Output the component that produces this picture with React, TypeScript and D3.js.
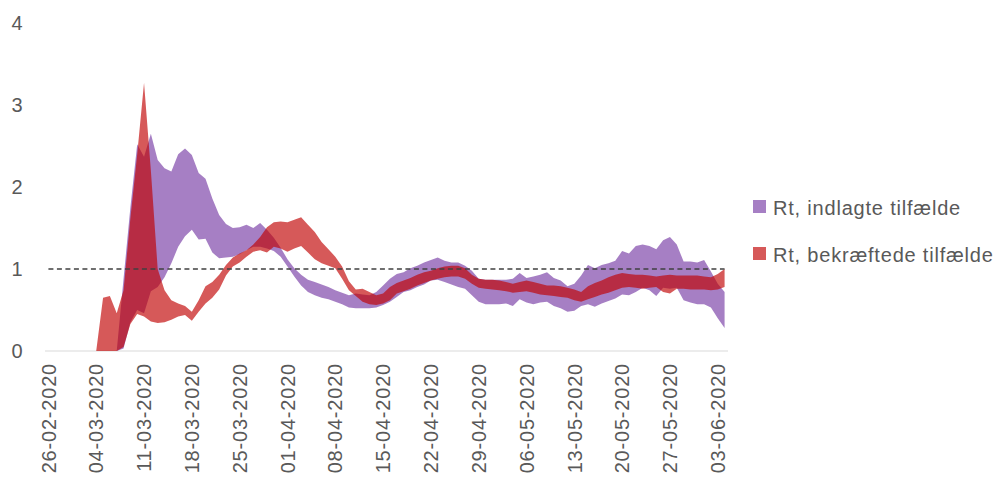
import React, { useEffect, useRef } from 'react';
import * as d3 from 'd3';

// one value per day, 26-02-2020 .. 04-06-2020 (null = no estimate yet)
const tickLabels = [
  '26-02-2020', '04-03-2020', '11-03-2020', '18-03-2020', '25-03-2020',
  '01-04-2020', '08-04-2020', '15-04-2020', '22-04-2020', '29-04-2020',
  '06-05-2020', '13-05-2020', '20-05-2020', '27-05-2020', '03-06-2020',
];
const tickStep = 7;
const yTicks = [0, 1, 2, 3, 4];
const threshold = 1;
const seriesNames = ['Rt, indlagte tilfælde', 'Rt, bekræftede tilfælde'];

const N = null;
// Rt, indlagte tilfælde (purple band)
const hospLow = [
  N, N, N, N, N, N, N, N, N, N,
  0, 0.03, 0.35, 0.50, 0.46, 0.73, 0.78, 0.90, 1.07, 1.27,
  1.40, 1.48, 1.36, 1.37, 1.20, 1.13, 1.14, 1.15, 1.18, 1.23,
  1.27, 1.27, 1.25, 1.22, 1.15, 1.03, 0.91, 0.80, 0.72, 0.68,
  0.65, 0.63, 0.60, 0.57, 0.53, 0.52, 0.52, 0.52, 0.53, 0.56,
  0.60, 0.66, 0.72, 0.74, 0.78, 0.81, 0.86, 0.87, 0.84, 0.81,
  0.78, 0.76, 0.68, 0.60, 0.57, 0.57, 0.57, 0.58, 0.55, 0.63,
  0.59, 0.57, 0.59, 0.60, 0.55, 0.52, 0.48, 0.49, 0.55, 0.57,
  0.54, 0.58, 0.61, 0.64, 0.69, 0.68, 0.72, 0.77, 0.74, 0.67,
  0.77, 0.76, 0.77, 0.62, 0.59, 0.57, 0.57, 0.53, 0.40, 0.28,
];
const hospHigh = [
  N, N, N, N, N, N, N, N, N, N,
  0, 0.88, 1.75, 2.52, 2.37, 2.65, 2.33, 2.23, 2.19, 2.40,
  2.47, 2.39, 2.17, 2.10, 1.86, 1.66, 1.55, 1.50, 1.51, 1.54,
  1.50, 1.56, 1.48, 1.38, 1.26, 1.12, 1.01, 0.93, 0.87, 0.84,
  0.81, 0.78, 0.74, 0.71, 0.68, 0.70, 0.69, 0.68, 0.72, 0.80,
  0.88, 0.94, 0.96, 1.01, 1.04, 1.08, 1.11, 1.14, 1.10, 1.08,
  1.08, 1.04, 0.98, 0.88, 0.87, 0.87, 0.87, 0.87, 0.88, 0.95,
  0.89, 0.91, 0.93, 0.96, 0.89, 0.86, 0.79, 0.82, 0.92, 1.05,
  1.01, 1.05, 1.07, 1.10, 1.22, 1.19, 1.28, 1.30, 1.28, 1.24,
  1.35, 1.39, 1.30, 1.09, 1.09, 1.08, 1.11, 0.97, 0.82, 0.72,
];
// Rt, bekræftede tilfælde (red band)
const casesLow = [
  N, N, N, N, N, N, N, 0, 0, 0,
  0, 0.05, 0.33, 0.45, 0.42, 0.36, 0.34, 0.35, 0.38, 0.42,
  0.44, 0.37, 0.48, 0.58, 0.65, 0.75, 0.92, 1.03, 1.08, 1.15,
  1.21, 1.23, 1.20, 1.27, 1.25, 1.21, 1.25, 1.28, 1.20, 1.12,
  1.07, 1.04, 1.01, 0.88, 0.74, 0.67, 0.60, 0.57, 0.56, 0.58,
  0.62, 0.70, 0.73, 0.76, 0.80, 0.83, 0.86, 0.88, 0.90, 0.91,
  0.91, 0.88, 0.82, 0.77, 0.76, 0.75, 0.74, 0.73, 0.71, 0.72,
  0.73, 0.71, 0.69, 0.68, 0.67, 0.66, 0.65, 0.62, 0.60, 0.63,
  0.66, 0.69, 0.71, 0.74, 0.77, 0.78, 0.77, 0.76, 0.77, 0.78,
  0.72, 0.70, 0.76, 0.76, 0.75, 0.75, 0.75, 0.74, 0.75, 0.78,
];
const casesHigh = [
  N, N, N, N, N, N, N, 0, 0.65, 0.67,
  0.46, 0.74, 1.62, 2.40, 3.27, 2.20, 1.00, 0.74, 0.62, 0.58,
  0.55, 0.48, 0.62, 0.79, 0.84, 0.93, 1.05, 1.14, 1.19, 1.23,
  1.30, 1.39, 1.51, 1.57, 1.58, 1.57, 1.60, 1.63, 1.54, 1.45,
  1.33, 1.24, 1.15, 1.03, 0.85, 0.75, 0.76, 0.72, 0.68, 0.70,
  0.78, 0.83, 0.86, 0.89, 0.93, 0.96, 0.98, 1.01, 1.03, 1.04,
  1.04, 1.01, 0.93, 0.88, 0.87, 0.87, 0.86, 0.84, 0.82, 0.84,
  0.86, 0.84, 0.82, 0.80, 0.80, 0.79, 0.77, 0.75, 0.72, 0.79,
  0.83, 0.86, 0.90, 0.93, 0.95, 0.94, 0.93, 0.93, 0.92, 0.91,
  0.92, 0.93, 0.92, 0.92, 0.92, 0.92, 0.91, 0.90, 0.94, 1.00,
];

const PURPLE = '#7030A0';
const RED = '#C00000';
const FONT = '"Liberation Sans", Arial, sans-serif';

export default function App() {
  const ref = useRef<SVGSVGElement>(null);

  useEffect(() => {
    const svg = d3.select(ref.current);
    svg.selectAll('*').remove();

    const nDays = hospHigh.length;
    const x = d3.scaleLinear().domain([-0.5, nDays - 0.5]).range([45, 728]);
    const y = d3.scaleLinear().domain([0, 4]).range([351, 23]);

    const band = (low: (number | null)[], high: (number | null)[]) =>
      d3.area<number>()
        .defined(i => low[i] != null && high[i] != null)
        .x(i => x(i))
        .y0(i => y(low[i] as number))
        .y1(i => y(high[i] as number));

    const idx = d3.range(nDays);

    // horizontal axis line
    svg.append('line')
      .attr('x1', x.range()[0]).attr('x2', x.range()[1])
      .attr('y1', y(0)).attr('y2', y(0))
      .attr('stroke', '#d9d9d9').attr('stroke-width', 1);

    svg.append('path')
      .attr('d', band(hospLow, hospHigh)(idx))
      .attr('fill', PURPLE).attr('fill-opacity', 0.62);

    svg.append('path')
      .attr('d', band(casesLow, casesHigh)(idx))
      .attr('fill', RED).attr('fill-opacity', 0.65);

    // Rt = 1 reference
    svg.append('line')
      .attr('x1', x(0)).attr('x2', x(nDays - 1))
      .attr('y1', y(threshold)).attr('y2', y(threshold))
      .attr('stroke', '#404040').attr('stroke-width', 1.3)
      .attr('stroke-dasharray', '5,3.5');

    // y labels
    svg.append('g').selectAll('text').data(yTicks).enter().append('text')
      .attr('x', 17).attr('y', d => y(d)).attr('dy', '0.35em')
      .attr('text-anchor', 'middle')
      .attr('font-family', FONT).attr('font-size', 20).attr('fill', '#595959')
      .text(d => d);

    // x labels
    svg.append('g').selectAll('text').data(tickLabels).enter().append('text')
      .attr('transform', (d, i) => `translate(${x(i * tickStep)},363) rotate(-90)`)
      .attr('dy', '0.36em')
      .attr('text-anchor', 'end')
      .attr('font-family', FONT).attr('font-size', 20).attr('fill', '#595959')
      .attr('letter-spacing', 0.8)
      .text(d => d);

    // legend
    const legend = svg.append('g');
    const colors = [PURPLE, RED];
    const opac = [0.62, 0.65];
    seriesNames.forEach((name, i) => {
      const gy = 200 + i * 47;
      legend.append('rect')
        .attr('x', 753).attr('y', gy).attr('width', 13).attr('height', 13)
        .attr('fill', colors[i]).attr('fill-opacity', opac[i]);
      legend.append('text')
        .attr('x', 773).attr('y', gy + 14.5)
        .attr('font-family', FONT).attr('font-size', 20).attr('fill', '#595959')
        .attr('letter-spacing', 0.8)
        .text(name);
    });
  }, []);

  return (
    <div style={{ position: 'absolute', left: 0, top: 0 }}>
      <svg ref={ref} width={1002} height={479} style={{ display: 'block', background: '#fff' }} />
    </div>
  );
}
